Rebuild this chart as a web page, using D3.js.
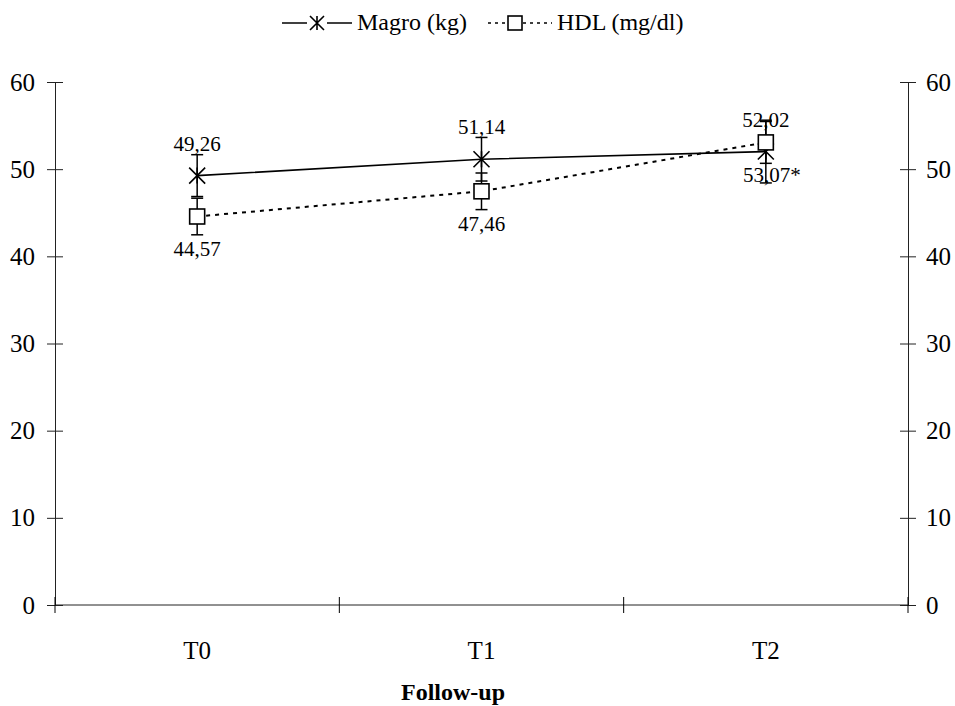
<!DOCTYPE html>
<html>
<head>
<meta charset="utf-8">
<script src="https://cdn.jsdelivr.net/npm/d3@7"></script>
<style>
  body { margin: 0; background: #fff; }
  svg { font-family: "Liberation Serif", "Times New Roman", serif; }
</style>
</head>
<body>
<div id="chart"></div>
<script>
// chart values
const periods = ['T0', 'T1', 'T2'];
const magro = [49.26, 51.14, 52.02];
const magroErr = [2.4, 2.5, 3.6];
const magroLabels = ['49,26', '51,14', '52,02'];
const hdl = [44.57, 47.46, 53.07];
const hdlErr = [2.1, 2.1, 2.4];
const hdlLabels = ['44,57', '47,46', '53,07*'];
const yTicks = [0, 10, 20, 30, 40, 50, 60];

const width = 955;
const height = 706;

const svg = d3.select('#chart')
  .append('svg')
  .attr('width', width)
  .attr('height', height);

const x = d3.scaleBand().domain(periods).range([55, 908]).padding(0);
const y = d3.scaleLinear().domain([0, 60]).range([605, 82]);
const cx = (d) => x(d) + x.bandwidth() / 2;

// left axis
const left = svg.append('g')
  .attr('transform', 'translate(55,0)')
  .call(d3.axisLeft(y).tickValues(yTicks).tickSize(8).tickSizeOuter(0).tickPadding(12));
left.selectAll('.tick line').attr('x1', 8);

// right axis
const right = svg.append('g')
  .attr('transform', 'translate(908,0)')
  .call(d3.axisRight(y).tickValues(yTicks).tickSize(8).tickSizeOuter(0).tickPadding(10));
right.selectAll('.tick line').attr('x1', -8);

// bottom axis (labels only, ticks at band edges)
const bottom = svg.append('g')
  .attr('transform', 'translate(0,605)')
  .call(d3.axisBottom(x).tickSize(0).tickPadding(36));
bottom.select('.domain').attr('d', `M55,0H908`);

const edges = periods.map((p) => x(p)).concat([x.range()[1]]);
bottom.selectAll('line.edge')
  .data(edges)
  .join('line')
  .attr('class', 'edge')
  .attr('x1', (d) => d).attr('x2', (d) => d)
  .attr('y1', -8).attr('y2', 8)
  .attr('stroke', '#000');

svg.selectAll('.tick text').attr('font-size', 25).attr('fill', '#000').attr('font-family', 'Liberation Serif, serif');
svg.selectAll('.domain, .tick line').attr('stroke', '#222');

// axis title
svg.append('text')
  .attr('x', 453)
  .attr('y', 700)
  .attr('text-anchor', 'middle')
  .attr('font-weight', 'bold')
  .attr('font-size', 24)
  .text('Follow-up');

// lines
const line = d3.line().x((d, i) => cx(periods[i])).y((d) => y(d));

svg.append('path')
  .datum(magro)
  .attr('d', line)
  .attr('fill', 'none')
  .attr('stroke', '#000')
  .attr('stroke-width', 1.6);

svg.append('path')
  .datum(hdl)
  .attr('d', line)
  .attr('fill', 'none')
  .attr('stroke', '#000')
  .attr('stroke-width', 2)
  .attr('stroke-dasharray', '4,5');

// error bars
function errorBars(vals, errs) {
  const g = svg.append('g').attr('stroke', '#000').attr('stroke-width', 1.5);
  vals.forEach((v, i) => {
    const px = cx(periods[i]);
    const top = y(v + errs[i]);
    const bot = y(v - errs[i]);
    g.append('line').attr('x1', px).attr('x2', px).attr('y1', top).attr('y2', bot);
    g.append('line').attr('x1', px - 6).attr('x2', px + 6).attr('y1', top).attr('y2', top);
    g.append('line').attr('x1', px - 6).attr('x2', px + 6).attr('y1', bot).attr('y2', bot);
  });
}
errorBars(magro, magroErr);
errorBars(hdl, hdlErr);

// markers
function star(g, px, py, r) {
  g.append('path')
    .attr('d', `M${px - r},${py - r}L${px + r},${py + r}M${px - r},${py + r}L${px + r},${py - r}M${px},${py - r}L${px},${py + r}`)
    .attr('stroke', '#000')
    .attr('stroke-width', 1.6)
    .attr('fill', 'none');
}
function square(g, px, py, s) {
  g.append('rect')
    .attr('x', px - s / 2).attr('y', py - s / 2)
    .attr('width', s).attr('height', s)
    .attr('fill', '#fff')
    .attr('stroke', '#000')
    .attr('stroke-width', 1.6);
}

const marks = svg.append('g');
magro.forEach((v, i) => star(marks, cx(periods[i]), y(v), 8));
hdl.forEach((v, i) => square(marks, cx(periods[i]), y(v), 15));

// value labels
svg.append('g')
  .selectAll('text')
  .data(magro)
  .join('text')
  .attr('x', (d, i) => cx(periods[i]))
  .attr('y', (d) => y(d) - 25)
  .attr('text-anchor', 'middle')
  .attr('font-size', 21)
  .text((d, i) => magroLabels[i]);

svg.append('g')
  .selectAll('text')
  .data(hdl)
  .join('text')
  .attr('x', (d, i) => cx(periods[i]) + (i === 2 ? 6 : 0))
  .attr('y', (d) => y(d) + 40)
  .attr('text-anchor', 'middle')
  .attr('font-size', 21)
  .text((d, i) => hdlLabels[i]);

// legend
const legend = svg.append('g');
legend.append('line').attr('x1', 282).attr('x2', 352).attr('y1', 23).attr('y2', 23)
  .attr('stroke', '#000').attr('stroke-width', 1.5);
legend.append('rect').attr('x', 307).attr('y', 15).attr('width', 20).attr('height', 16).attr('fill', '#fff');
star(legend, 317, 23, 7);
legend.append('text').attr('x', 357).attr('y', 30).attr('font-size', 24).text('Magro (kg)');

legend.append('line').attr('x1', 488).attr('x2', 552).attr('y1', 23).attr('y2', 23)
  .attr('stroke', '#000').attr('stroke-width', 1.5).attr('stroke-dasharray', '3,4');
square(legend, 515, 23, 14);
legend.append('text').attr('x', 557).attr('y', 30).attr('font-size', 24).text('HDL (mg/dl)');
</script>
</body>
</html>
